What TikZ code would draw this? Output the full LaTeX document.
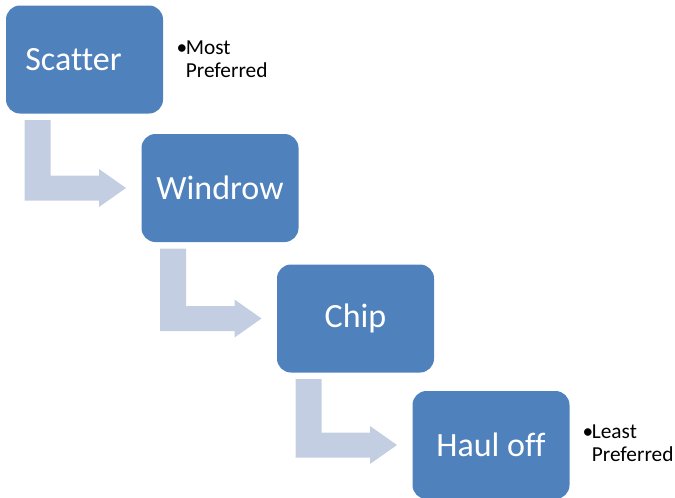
\documentclass[tikz,border=0pt]{standalone}
\usepackage{fontspec}
\setmainfont[Ligatures=CommonOff]{Carlito}
\usetikzlibrary{calc}

\definecolor{stepblue}{RGB}{79,129,189}
\definecolor{flowgrey}{RGB}{196,206,227}

\tikzset{every picture/.style={line width=0.75pt}}
\tikzset{
	stepbox/.style={fill=stepblue, rounded corners=10.5pt, minimum width=117.75pt, minimum height=81pt, inner sep=0pt, text=white, font=\fontsize{25.5}{30}\selectfont},
	flowarrow/.style={fill=flowgrey},
	notetext/.style={anchor=base west, inner sep=0pt, font=\fontsize{16}{17.25}\selectfont}
}

% bent block arrow: from under box #1 to the left side of box #2
\newcommand{\flowstep}[2]{%
	\coordinate (top) at ($(#1.south west)+(19,6)$);
	\coordinate (tip) at ($(#2.west)+(-15,0)$);
	\fill[flowarrow] (top) -- ($(top)+(26,0)$) -- ($(top |- tip)+(26,-12.5)$) -- ($(tip)+(-27,-12.5)$) -- ($(tip)+(-27,-19)$) -- (tip) -- ($(tip)+(-27,19)$) -- ($(tip)+(-27,12.5)$) -- ($(top |- tip)+(0,12.5)$) -- cycle ;
}

\begin{document}
\begin{tikzpicture}[x=0.75pt,y=0.75pt,yscale=-1,xscale=1]
	\useasboundingbox (0,0) rectangle (675,497);
	
	%steps
	\node[stepbox] (scatter) at (84.5,59.5) {Scatter\hspace*{16.5pt}};
	\node[stepbox] (windrow) at (220,188) {Windrow};
	\node[stepbox] (chip) at (355.5,318.5) {Chip};
	\node[stepbox] (hauloff) at (491,445) {Haul off};
	
	%arrows
	\flowstep{scatter}{windrow}
	\flowstep{windrow}{chip}
	\flowstep{chip}{hauloff}
	
	%notes
	\node[notetext] (mostnote) at (176,54) {\begin{tabular}[t]{@{}l@{}l@{}}\makebox[7pt][l]{\textbullet}&Most\\&Preferred\end{tabular}};
	\node[notetext] (leastnote) at (582,438) {\begin{tabular}[t]{@{}l@{}l@{}}\makebox[7pt][l]{\textbullet}&Least\\&Preferred\end{tabular}};
	
\end{tikzpicture}
\end{document}
